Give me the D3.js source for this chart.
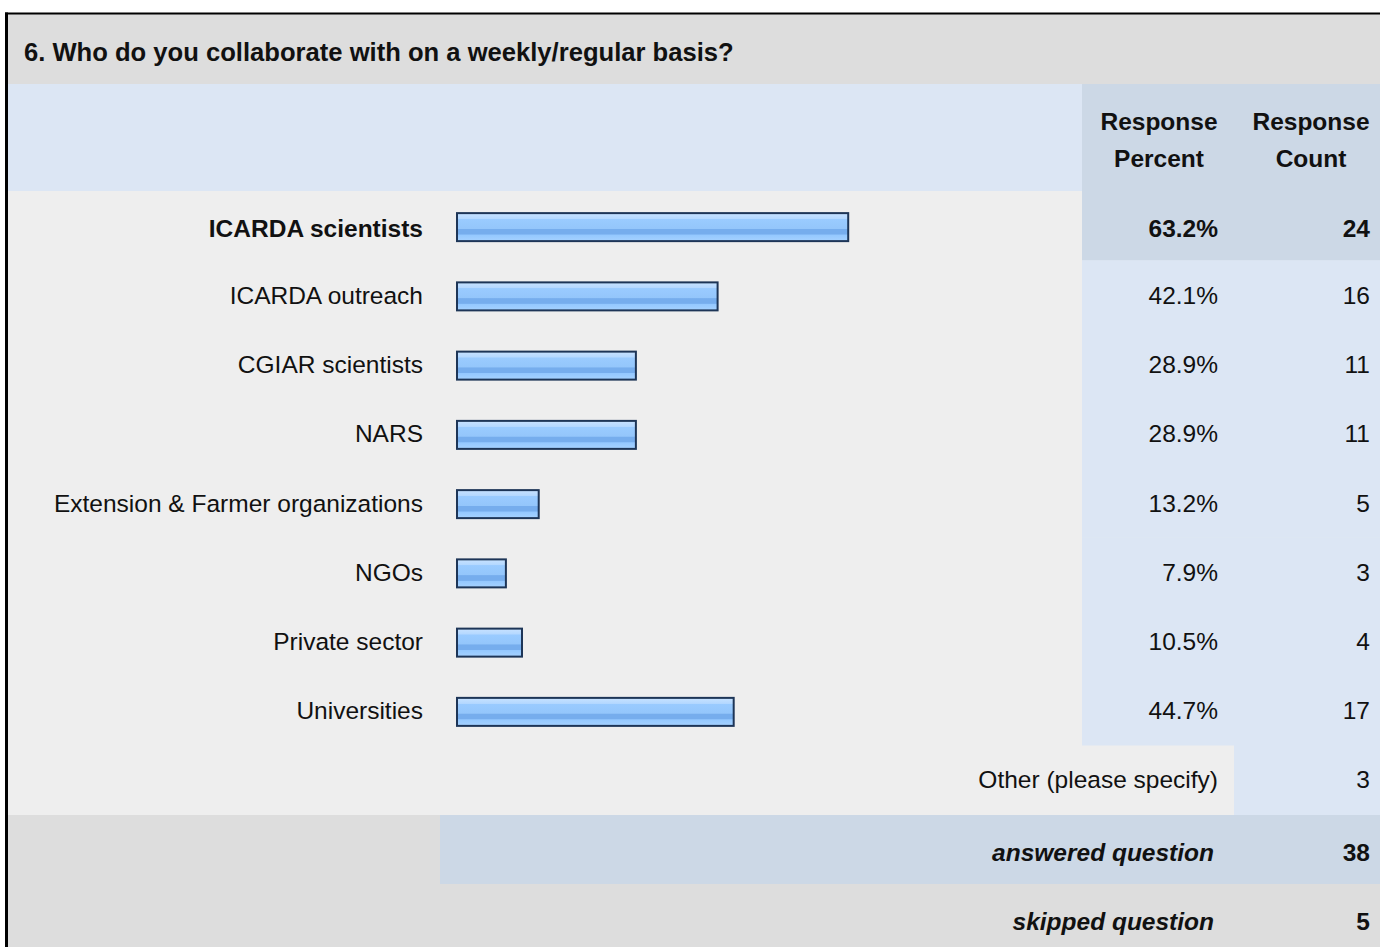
<!DOCTYPE html>
<html><head><meta charset="utf-8">
<script src="https://cdn.jsdelivr.net/npm/d3@7"></script>
<style>body{margin:0;background:#fff;}svg{display:block;font-family:"Liberation Sans",Arial,sans-serif;}</style>
</head><body><svg id="c" width="1380" height="947"></svg>
<script>
const title = "6. Who do you collaborate with on a weekly/regular basis?";
const categories = ["ICARDA scientists","ICARDA outreach","CGIAR scientists","NARS","Extension & Farmer organizations","NGOs","Private sector","Universities"];
const percents = [63.2,42.1,28.9,28.9,13.2,7.9,10.5,44.7];
const counts = [24,16,11,11,5,3,4,17];
const headers = [["Response","Percent"],["Response","Count"]];
const otherLabel = "Other (please specify)";
const otherCount = 3;
const summaryLabels = ["answered question","skipped question"];
const summaryValues = [38,5];

const FS = 24.5;
const svg = d3.select("#c");
const W = 1380;
// backgrounds
svg.append("rect").attr("x",6).attr("y",13).attr("width",W).attr("height",947).attr("fill","#eeeeee");
svg.append("rect").attr("x",6).attr("y",13).attr("width",W).attr("height",71).attr("fill","#dddddd");
svg.append("rect").attr("x",6).attr("y",84).attr("width",1076).attr("height",107).attr("fill","#dce6f4");
svg.append("rect").attr("x",1082).attr("y",84).attr("width",300).attr("height",107).attr("fill","#ccd8e6");
svg.append("text").attr("x",24).attr("y",61).attr("font-size",25.6).attr("font-weight","bold").attr("fill","#111").text(title);
const colX = [1159,1311];
headers.forEach((h,i)=>{
  h.forEach((t,j)=>svg.append("text").attr("x",colX[i]).attr("y",130+j*37).attr("text-anchor","middle")
    .attr("font-size",FS).attr("font-weight","bold").attr("fill","#111").text(t));
});

const rowTop = 191, rowH = 69.25;
const y = d3.scaleBand().domain(categories).range([rowTop,rowTop+rowH*categories.length]).paddingInner(0);
const x = d3.scaleLinear().domain([0,100]).range([457,1076]);

const defs = svg.append("defs");
const g = defs.append("linearGradient").attr("id","bar").attr("x1",0).attr("y1",0).attr("x2",0).attr("y2",1);
[[0,"#c8e2ff"],[0.2,"#b4d8ff"],[0.22,"#9acbff"],[0.55,"#94c6fb"],[0.58,"#76aded"],[0.75,"#76aded"],[0.78,"#94c8ff"],[1,"#a6d2ff"]]
 .forEach(s=>g.append("stop").attr("offset",s[0]).attr("stop-color",s[1]));

const rows = svg.append("g").selectAll("g").data(categories).join("g");
const cy = d => y(d)+y.bandwidth()/2+1.5;
const ty = (d,i) => cy(d) + (i===0 ? 9.5 : 7.5);
rows.append("rect").attr("x",1082).attr("y",d=>y(d)).attr("width",300).attr("height",y.bandwidth()+0.5)
  .attr("fill",(d,i)=>i===0?"#ccd8e6":"#dce6f4");
rows.append("text").attr("x",423).attr("y",ty).attr("text-anchor","end")
  .attr("font-size",FS).attr("font-weight",(d,i)=>i===0?"bold":"normal").attr("fill","#111").text(d=>d);
rows.append("rect").attr("x",x(0)).attr("y",d=>cy(d)-14).attr("height",28)
  .attr("width",(d,i)=>x(percents[i])-x(0)).attr("fill","url(#bar)").attr("stroke","#1d3557").attr("stroke-width",2);
rows.append("text").attr("x",1218).attr("y",ty).attr("text-anchor","end")
  .attr("font-size",FS).attr("font-weight",(d,i)=>i===0?"bold":"normal").attr("fill","#111").text((d,i)=>percents[i].toFixed(1)+"%");
rows.append("text").attr("x",1370).attr("y",ty).attr("text-anchor","end")
  .attr("font-size",FS).attr("font-weight",(d,i)=>i===0?"bold":"normal").attr("fill","#111").text((d,i)=>counts[i]);

// other row
const oy = 745;
svg.append("rect").attr("x",1234).attr("y",oy).attr("width",150).attr("height",70).attr("fill","#dce6f4");
svg.append("text").attr("x",1218).attr("y",oy+43).attr("text-anchor","end").attr("font-size",FS).attr("fill","#111").text(otherLabel);
svg.append("text").attr("x",1370).attr("y",oy+43).attr("text-anchor","end").attr("font-size",FS).attr("fill","#111").text(otherCount);

// summary rows
svg.append("rect").attr("x",6).attr("y",815).attr("width",W).attr("height",140).attr("fill","#dddddd");
svg.append("rect").attr("x",440).attr("y",815).attr("width",W).attr("height",69).attr("fill","#ccd8e6");
summaryLabels.forEach((s,i)=>{
  const yy = 861+i*69;
  svg.append("text").attr("x",1214).attr("y",yy).attr("text-anchor","end").attr("font-size",FS)
    .attr("font-weight","bold").attr("font-style","italic").attr("fill","#111").text(s);
  svg.append("text").attr("x",1370).attr("y",yy).attr("text-anchor","end").attr("font-size",FS)
    .attr("font-weight","bold").attr("fill","#111").text(summaryValues[i]);
});

// border
svg.append("line").attr("x1",5).attr("x2",1380).attr("y1",13.5).attr("y2",13.5).attr("stroke","#000").attr("stroke-width",2);
svg.append("line").attr("x1",6.5).attr("x2",6.5).attr("y1",12.5).attr("y2",947).attr("stroke","#000").attr("stroke-width",3);
</script></body></html>
